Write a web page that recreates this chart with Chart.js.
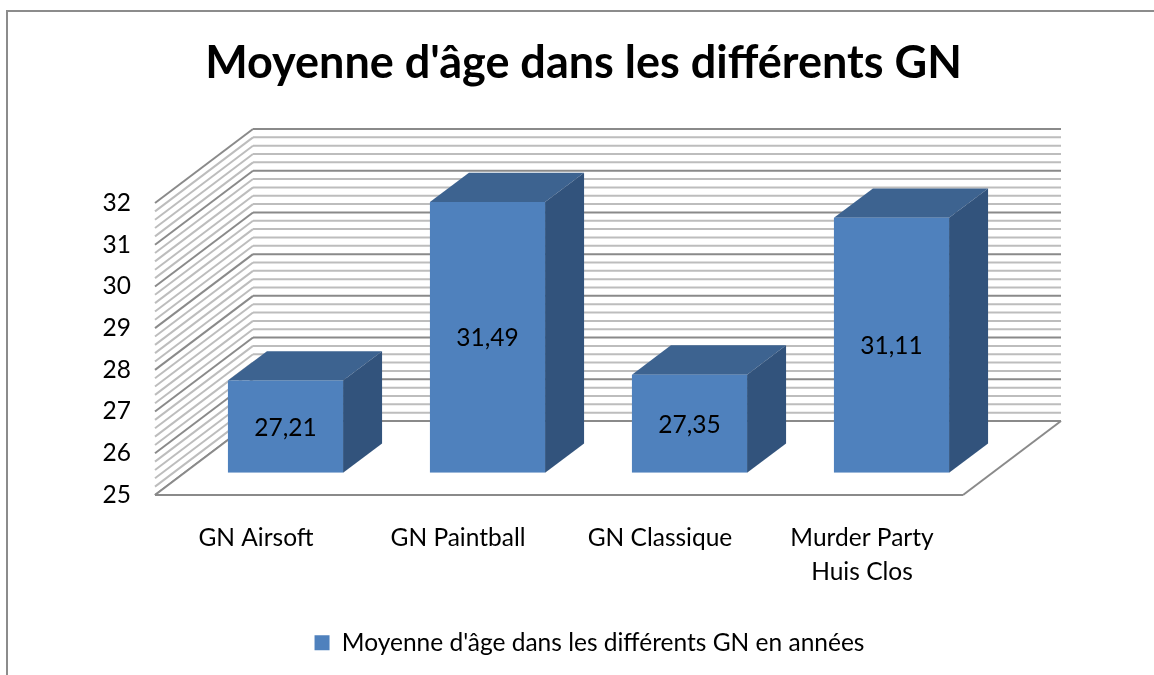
<!DOCTYPE html>
<html lang="fr">
<head>
  <meta charset="UTF-8" />
  <title>Moyenne d'âge dans les différents GN</title>
  <script src="https://cdn.jsdelivr.net/npm/chart.js"></script>
  <style>
    html, body { margin: 0; background: white; overflow: hidden; height: 100%; }
    #frame {
      position: absolute; left: 6px; top: 10px; right: 0; bottom: 0;
      border-top: 2px solid #8c8c8c; border-left: 2px solid #8c8c8c;
    }
    canvas { position: absolute; left: 0; top: 0; }
  </style>
</head>
<body>
<div id="frame"><canvas id="chart" width="1151" height="663"></canvas></div>
<script>
  const categories = ["GN Airsoft", "GN Paintball", "GN Classique", ["Murder Party", "Huis Clos"]];
  const values = [27.21, 31.49, 27.35, 31.11];
  const seriesName = "Moyenne d'âge dans les différents GN en années";
  const chartTitle = "Moyenne d'âge dans les différents GN";

  const fontFamily = "Lato, 'Open Sans', sans-serif";
  const blue = "#4F81BD", blueTop = "#3D6390", blueSide = "#32537C";
  // depth of the walls, position of the bars in it, depth of one bar
  const wall = { dx: 98, dy: -74 };
  const shift = { dx: 29.5, dy: -22.3 };
  const depth = { dx: 39, dy: -29.3 };

  function line(ctx, x1, y1, x2, y2) {
    ctx.beginPath();
    ctx.moveTo(x1, y1);
    ctx.lineTo(x2, y2);
    ctx.stroke();
  }

  function poly(ctx, pts) {
    ctx.beginPath();
    pts.forEach((p, i) => i ? ctx.lineTo(p[0], p[1]) : ctx.moveTo(p[0], p[1]));
    ctx.closePath();
    ctx.fill();
  }

  const box3d = {
    id: "box3d",
    afterLayout(chart) {
      // legend sits a little right of the title in the original
      chart.legend.left += 6;
      chart.legend.right += 6;
      chart.legend.top -= 10;
      chart.legend.bottom -= 10;
    },
    beforeDatasetsDraw(chart) {
      const { ctx, chartArea: a, scales: { y } } = chart;
      ctx.save();
      // walls: a line every 0.2, darker on whole numbers
      for (let i = 0; i <= 35; i++) {
        const py = y.getPixelForValue(y.min + i * 0.2);
        ctx.strokeStyle = i % 5 === 0 ? "#8a8a8a" : "#bdbdbd";
        ctx.lineWidth = 2;
        line(ctx, a.left, py, a.left + wall.dx, py + wall.dy);
        line(ctx, a.left + wall.dx, py + wall.dy, a.right + wall.dx, py + wall.dy);
      }
      // floor
      ctx.strokeStyle = "#8a8a8a";
      ctx.fillStyle = "#fff";
      poly(ctx, [[a.left, a.bottom], [a.right, a.bottom], [a.right + wall.dx, a.bottom + wall.dy], [a.left + wall.dx, a.bottom + wall.dy]]);
      line(ctx, a.left, a.bottom, a.right, a.bottom);
      line(ctx, a.right, a.bottom, a.right + wall.dx, a.bottom + wall.dy);
      line(ctx, a.left, a.bottom, a.left + wall.dx, a.bottom + wall.dy);
      line(ctx, a.left + wall.dx, a.bottom + wall.dy, a.right + wall.dx, a.bottom + wall.dy);
      // sides and tops of the bars
      chart.getDatasetMeta(0).data.forEach(bar => {
        const l = bar.x - bar.width / 2 + shift.dx, r = bar.x + bar.width / 2 + shift.dx;
        const t = bar.y + shift.dy, b = bar.base + shift.dy;
        ctx.fillStyle = blueTop;
        poly(ctx, [[l, t], [r, t], [r + depth.dx, t + depth.dy], [l + depth.dx, t + depth.dy]]);
        ctx.fillStyle = blueSide;
        poly(ctx, [[r, t], [r + depth.dx, t + depth.dy], [r + depth.dx, b + depth.dy], [r, b]]);
      });
      ctx.restore();
    },
    beforeDatasetDraw(chart) {
      chart.ctx.save();
      chart.ctx.translate(shift.dx, shift.dy);
    },
    afterDatasetDraw(chart) {
      chart.ctx.restore();
    },
    afterDatasetsDraw(chart) {
      const { ctx } = chart;
      ctx.save();
      ctx.fillStyle = "#000";
      ctx.font = "24.5px " + fontFamily;
      ctx.textAlign = "center";
      ctx.textBaseline = "middle";
      chart.getDatasetMeta(0).data.forEach((bar, i) => {
        ctx.fillText(String(values[i]).replace(".", ","), bar.x + shift.dx, (bar.y + bar.base) / 2 + shift.dy + 1);
      });
      ctx.restore();
    }
  };

  new Chart(document.getElementById("chart"), {
    type: "bar",
    data: {
      labels: categories,
      datasets: [{
        label: seriesName,
        data: values,
        base: 25,
        backgroundColor: blue,
        borderWidth: 0,
        barPercentage: 0.57,
        categoryPercentage: 1
      }]
    },
    options: {
      responsive: false,
      animation: false,
      plugins: {
        title: {
          display: true,
          text: chartTitle,
          color: "#000",
          font: { family: fontFamily, size: 45, weight: "bold", lineHeight: 1.2 },
          padding: { top: 24, bottom: 113 }
        },
        legend: {
          position: "bottom",
          labels: {
            color: "#000",
            font: { family: fontFamily, size: 24.5 },
            boxWidth: 15,
            boxHeight: 15,
            padding: 32.5
          }
        },
        tooltip: { enabled: false }
      },
      scales: {
        x: {
          grid: { display: false },
          border: { display: false },
          ticks: { color: "#000", padding: 19, maxRotation: 0, font: { family: fontFamily, size: 24.5, lineHeight: 1.35 } },
          afterFit(s) { s.height = 113; }
        },
        y: {
          min: 25,
          max: 32,
          grid: { display: false },
          border: { display: false },
          ticks: { stepSize: 1, color: "#000", padding: 16, font: { family: fontFamily, size: 24.5 } },
          afterFit(s) { s.width = 147; }
        },
        // empty axis: keeps room on the right for the depth of the walls
        right: {
          position: "right",
          grid: { display: false },
          border: { display: false },
          ticks: { display: false },
          afterFit(s) { s.width = 196; }
        }
      }
    },
    plugins: [box3d]
  });
</script>
</body>
</html>
